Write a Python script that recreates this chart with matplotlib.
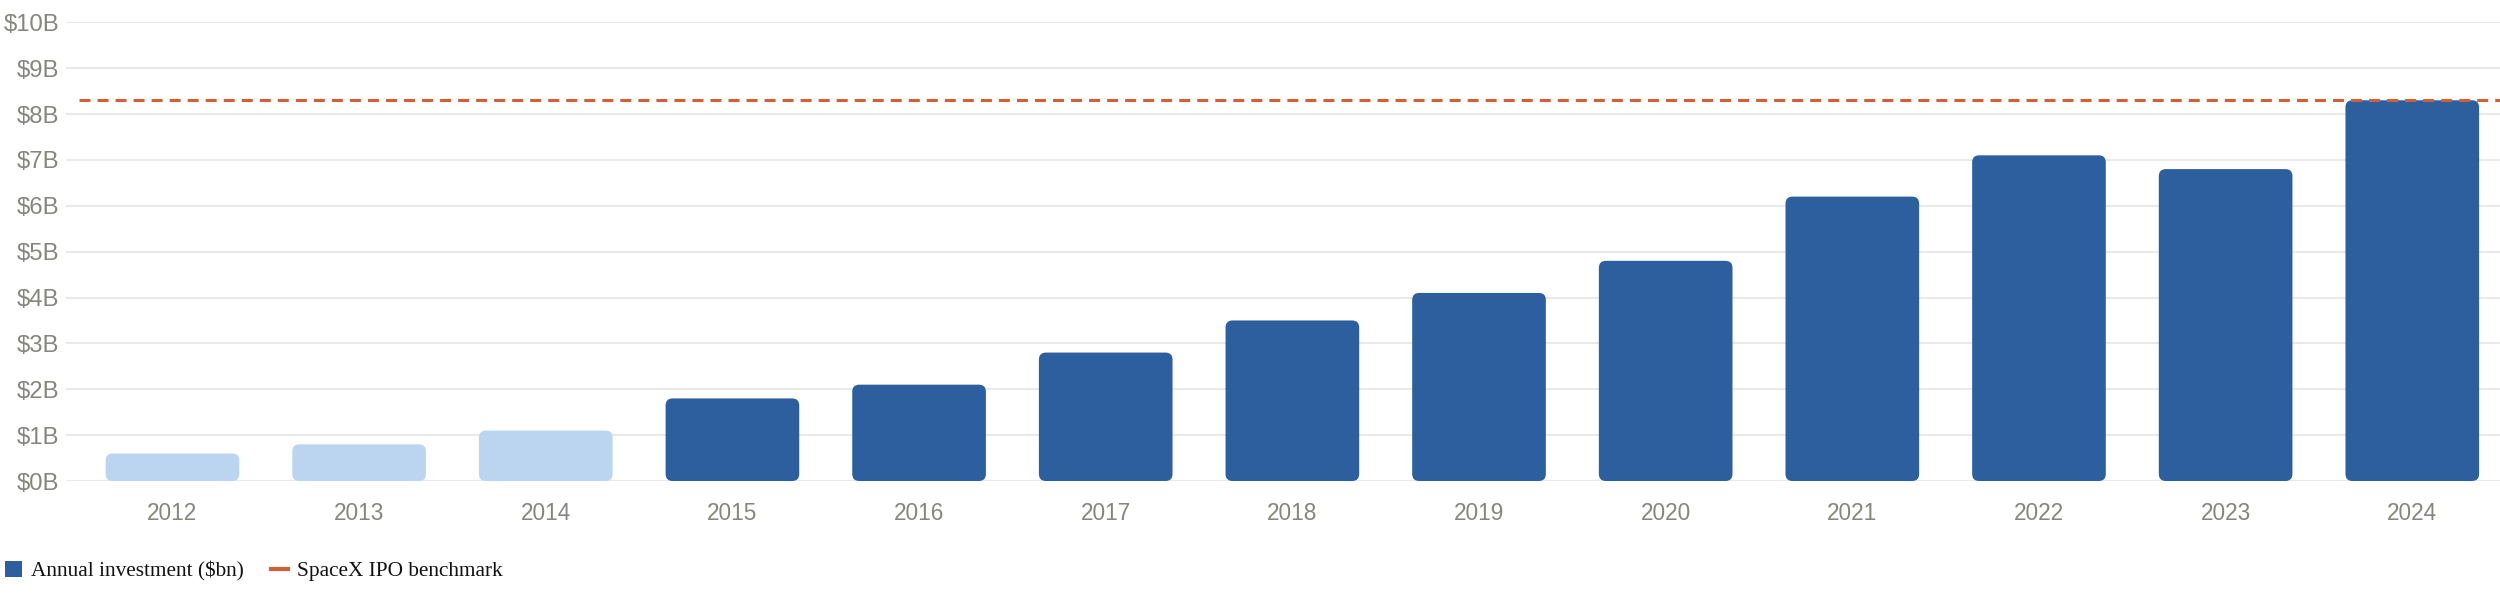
import matplotlib
matplotlib.use("Agg")
import matplotlib.pyplot as plt
from matplotlib.patches import FancyBboxPatch, Patch
from matplotlib.lines import Line2D
from matplotlib.ticker import FuncFormatter, MultipleLocator

years = ["2012", "2013", "2014", "2015", "2016", "2017", "2018",
         "2019", "2020", "2021", "2022", "2023", "2024"]
investment = [0.6, 0.8, 1.1, 1.8, 2.1, 2.8, 3.5, 4.1, 4.8, 6.2, 7.1, 6.8, 8.3]
early_years = ["2012", "2013", "2014"]
benchmark = 8.3

DARK = "#2d5f9f"
LIGHT = "#bbd5f1"
RED = "#d35f38"
GRAY = "#86867f"
GRID = "#e9e9e9"

W, H = 2500, 606
fig = plt.figure(figsize=(W / 100, H / 100), dpi=100)
ax = fig.add_axes([65.7 / W, 1 - 481 / H, (W - 65.7) / W, (481 - 22.3) / H])

ax.set_xlim(-0.572, len(years) - 1 + 0.47)
ax.set_ylim(0, 10)

bw = 0.716
x_px = ax.get_position().width * W / (ax.get_xlim()[1] - ax.get_xlim()[0])
y_px = ax.get_position().height * H / 10.0
r_px = 7.0
for i, (yr, v) in enumerate(zip(years, investment)):
    col = LIGHT if yr in early_years else DARK
    p = FancyBboxPatch((i - bw / 2, 0), bw, v,
                       boxstyle=f"round,pad=0,rounding_size={r_px / x_px}",
                       mutation_aspect=x_px / y_px,
                       facecolor=col, edgecolor="none", zorder=2)
    ax.add_patch(p)

ax.hlines(benchmark, -0.5, len(years) - 0.5, colors=RED, linewidth=2.2,
          linestyles=(0, (3.6, 2.3)), zorder=3)

ax.yaxis.set_major_locator(MultipleLocator(1))
ax.yaxis.set_major_formatter(FuncFormatter(lambda v, _: f"${int(v)}B"))
ax.set_xticks(range(len(years)))
ax.set_xticklabels(years)
ax.grid(axis="y", color=GRID, linewidth=1.5, zorder=0)
ax.set_axisbelow(True)
for s in ax.spines.values():
    s.set_visible(False)
ax.tick_params(axis="y", length=0, pad=4.5, labelsize=17.2, labelcolor=GRAY)
ax.tick_params(axis="x", length=0, pad=15, labelsize=16.3, labelcolor=GRAY)
for lab in ax.get_xticklabels() + ax.get_yticklabels():
    lab.set_fontfamily(["Liberation Sans", "DejaVu Sans"])

handles = [Patch(facecolor=DARK, edgecolor="none"),
           Line2D([0], [0], color=RED, linewidth=3)]
leg = fig.legend(handles, ["Annual investment ($bn)", "SpaceX IPO benchmark"],
                 loc="center left", bbox_to_anchor=(5.4 / W, 1 - 571 / H),
                 ncol=2, frameon=False,
                 prop={"family": ["Liberation Serif", "DejaVu Serif"], "size": 15.3},
                 handlelength=0.8, handleheight=0.8, handletextpad=0.4,
                 columnspacing=1.3, borderaxespad=0, borderpad=0)
for t in leg.get_texts():
    t.set_color("#111111")

fig.savefig("out.png", dpi=100, facecolor="white")
